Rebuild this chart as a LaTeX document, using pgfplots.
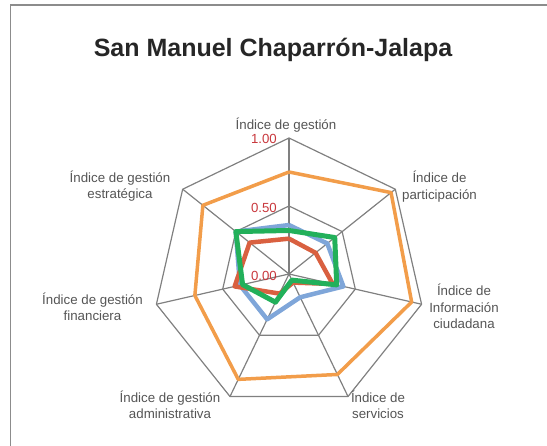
\documentclass[border=0pt]{standalone}
\usepackage{fontspec}
\setmainfont{Liberation Sans}
\usepackage{pgfplots}
\pgfplotsset{compat=1.18}

\definecolor{gridgray}{RGB}{128,128,128}
\definecolor{framegray}{RGB}{140,140,140}
\definecolor{labgray}{RGB}{85,85,85}
\definecolor{tickred}{RGB}{200,55,60}
\definecolor{sblue}{RGB}{127,166,217}
\definecolor{sred}{RGB}{217,96,64}
\definecolor{sorange}{RGB}{242,157,74}
\definecolor{sgreen}{RGB}{34,176,90}

\begin{document}
\begin{tikzpicture}[x=1pt,y=1pt]
\useasboundingbox (0,0) rectangle (547,-446);
\draw[framegray,line width=1.5pt] (10.5,-446) -- (10.5,-5) -- (547,-5);
\node[anchor=base,font=\bfseries\fontsize{25}{29}\selectfont,text=black!85] at (273,-56.5) {San Manuel Chaparrón-Jalapa};

\begin{axis}[anchor=center, at={(289pt,-274pt)}, x=136pt, y=136pt,
  hide axis, clip=false, xmin=-1, xmax=1, ymin=-1, ymax=1,
  every axis plot/.append style={data cs=polar, line join=round}]
% grid: heptagons at 0.5 and 1, spokes
\addplot[gridgray,line width=1.2pt] coordinates {
(90,1)(38.5714,1)(-12.8571,1)(-64.2857,1)(-115.7143,1)(-167.1429,1)(141.4286,1)(90,1)};
\addplot[gridgray,line width=1.2pt] coordinates {
(90,0.5)(38.5714,0.5)(-12.8571,0.5)(-64.2857,0.5)(-115.7143,0.5)(-167.1429,0.5)(141.4286,0.5)(90,0.5)};
\addplot[gridgray,line width=1.2pt] coordinates {(90,0)(90,1)};
\addplot[gridgray,line width=1.2pt] coordinates {(38.5714,0)(38.5714,1)};
\addplot[gridgray,line width=1.2pt] coordinates {(-12.8571,0)(-12.8571,1)};
\addplot[gridgray,line width=1.2pt] coordinates {(-64.2857,0)(-64.2857,1)};
\addplot[gridgray,line width=1.2pt] coordinates {(-115.7143,0)(-115.7143,1)};
\addplot[gridgray,line width=1.2pt] coordinates {(-167.1429,0)(-167.1429,1)};
\addplot[gridgray,line width=1.2pt] coordinates {(141.4286,0)(141.4286,1)};
% series
\addplot[sblue,line width=4.5pt] coordinates {
(90,0.36)(38.5714,0.36)(-12.8571,0.41)(-64.2857,0.19)(-115.7143,0.37)(-167.1429,0.37)(141.4286,0.50)(90,0.36)};
\addplot[sorange,line width=3.5pt] coordinates {
(90,0.75)(38.5714,0.96)(-12.8571,0.925)(-64.2857,0.82)(-115.7143,0.86)(-167.1429,0.71)(141.4286,0.81)(90,0.75)};
\addplot[sred,line width=4.5pt] coordinates {
(90,0.26)(38.5714,0.25)(-12.8571,0.33)(-64.2857,0.07)(-115.7143,0.16)(-167.1429,0.41)(141.4286,0.37)(90,0.26)};
\addplot[sgreen,line width=5pt] coordinates {
(90,0.32)(38.5714,0.43)(-12.8571,0.36)(-64.2857,0.05)(-115.7143,0.23)(-167.1429,0.35)(141.4286,0.50)(90,0.32)};
\end{axis}

% tick labels
\begin{scope}[every node/.style={font=\fontsize{13.2}{15}\selectfont,text=tickred,anchor=east,inner sep=0pt}]
\node at (277,-139) {1.00};
\node at (277,-208) {0.50};
\node at (277,-275.5) {0.00};
\end{scope}
% category labels
\begin{scope}[every node/.style={font=\fontsize{13.3}{16.5}\selectfont,text=labgray,align=center,inner sep=0pt}]
\node at (286,-125) {Índice de gestión};
\node at (439.5,-186.5) {Índice de\\participación};
\node at (464,-306.5) {Índice de\\Información\\ciudadana};
\node at (378,-405) {Índice de\\servicios};
\node at (170,-405) {Índice de gestión\\administrativa};
\node at (92.5,-307) {Índice de gestión\\financiera};
\node at (120,-186) {Índice de gestión\\estratégica};
\end{scope}
\end{tikzpicture}
\end{document}
